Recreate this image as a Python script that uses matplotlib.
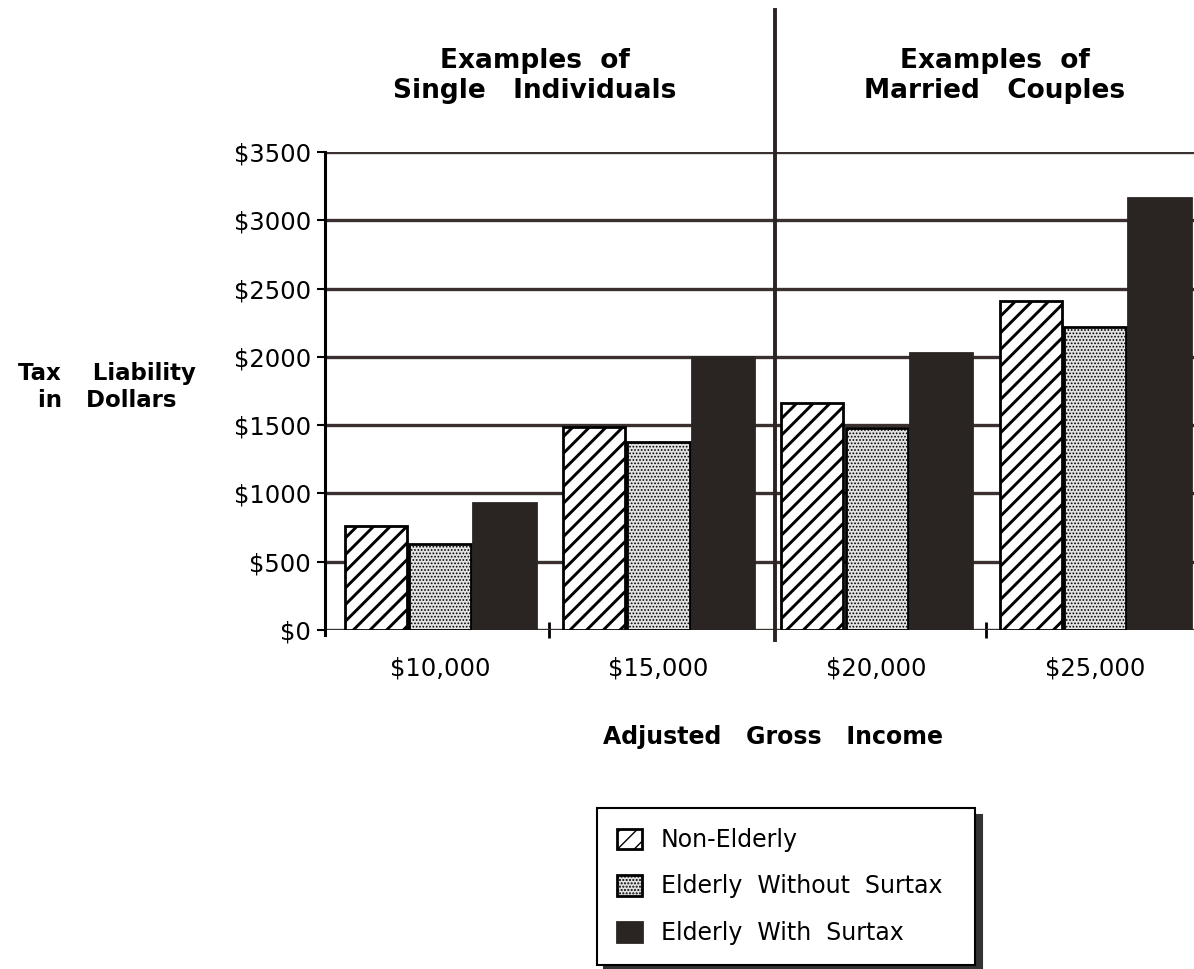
import matplotlib
matplotlib.use("Agg")
import matplotlib.pyplot as plt
import numpy as np

# values
incomes = ["$10,000", "$15,000", "$20,000", "$25,000"]
non_elderly = [760, 1490, 1660, 2410]
elderly_no_surtax = [630, 1380, 1480, 2220]
elderly_surtax = [930, 2000, 2030, 3160]
series_names = ["Non-Elderly", "Elderly  Without  Surtax", "Elderly  With  Surtax"]
yticks = [0, 500, 1000, 1500, 2000, 2500, 3000, 3500]

DARK = "#2a2422"
W, H = 1194, 969

fig = plt.figure(figsize=(W / 100, H / 100), dpi=100)
ax = fig.add_axes([325 / W, 1 - 630 / H, 1 - 325 / W, (630 - 152) / H])

x = np.arange(len(incomes))
bw = 0.285
off = 0.295

with plt.rc_context({"hatch.linewidth": 2.1, "hatch.color": "black"}):
    b1 = ax.bar(x - off, non_elderly, bw, facecolor="white", edgecolor="black",
                linewidth=2, hatch="//", zorder=3)
with plt.rc_context({"hatch.linewidth": 0.8, "hatch.color": "black"}):
    b2 = ax.bar(x, elderly_no_surtax, bw, facecolor="#e2e2e2", edgecolor="black",
                linewidth=2, hatch=".....", zorder=3)
b3 = ax.bar(x + off, elderly_surtax, bw, facecolor=DARK, edgecolor=DARK,
            linewidth=2, zorder=3)

ax.set_xlim(-0.527, 3.453)
ax.set_ylim(0, 3500)

# grid
ax.set_yticks(yticks)
ax.set_yticklabels(["$%d" % v for v in yticks], fontsize=17.5, family="DejaVu Sans")
ax.yaxis.grid(True, color="#3a3030", linewidth=2.4, zorder=1)
ax.tick_params(axis="y", length=6, width=1.5, pad=4, color="black")

ax.set_xticks(x)
ax.set_xticklabels(incomes, fontsize=17.5, family="DejaVu Sans")
ax.tick_params(axis="x", which="major", length=0, pad=19)
ax.set_xticks([0.5, 2.5], minor=True)
ax.tick_params(axis="x", which="minor", length=12, width=2, direction="inout")

for s in ["top", "right", "bottom"]:
    ax.spines[s].set_visible(False)
ax.spines["left"].set_linewidth(2.2)
ax.spines["left"].set_bounds(-40, 3500)

# divider between single and married
divx = 1.535
ax.plot([divx, divx], [-70, 4540], color=DARK, linewidth=2.8, clip_on=False, zorder=4)

# headings
fig.text(535 / W, 1 - 76 / H, "Examples  of\nSingle   Individuals", ha="center", va="center",
         fontsize=19, fontweight="bold", family="DejaVu Sans", linespacing=1.2)
fig.text(995 / W, 1 - 76 / H, "Examples  of\nMarried   Couples", ha="center", va="center",
         fontsize=19, fontweight="bold", family="DejaVu Sans", linespacing=1.2)

fig.text(107 / W, 1 - 387 / H, "Tax    Liability\nin   Dollars", ha="center", va="center",
         fontsize=16.5, fontweight="bold", family="DejaVu Sans", linespacing=1.2)
fig.text(773 / W, 1 - 737 / H, "Adjusted   Gross   Income", ha="center", va="center",
         fontsize=17, fontweight="bold", family="DejaVu Sans")

leg = fig.legend([b1, b2, b3], series_names, loc="upper left",
                 bbox_to_anchor=(597 / W, 1 - 965 / H, (975 - 597) / W, (965 - 808) / H),
                 bbox_transform=fig.transFigure, mode="expand", borderaxespad=0,
                 fancybox=False, edgecolor="black", framealpha=1,
                 prop={"family": "DejaVu Sans", "size": 17},
                 handlelength=1.05, handleheight=0.95, handletextpad=0.8,
                 labelspacing=0.95, borderpad=0.85,
                 shadow={"ox": 5, "oy": -5, "color": "#333333", "alpha": 1})
leg.get_frame().set_linewidth(1.5)

fig.savefig("out.png", dpi=100)
